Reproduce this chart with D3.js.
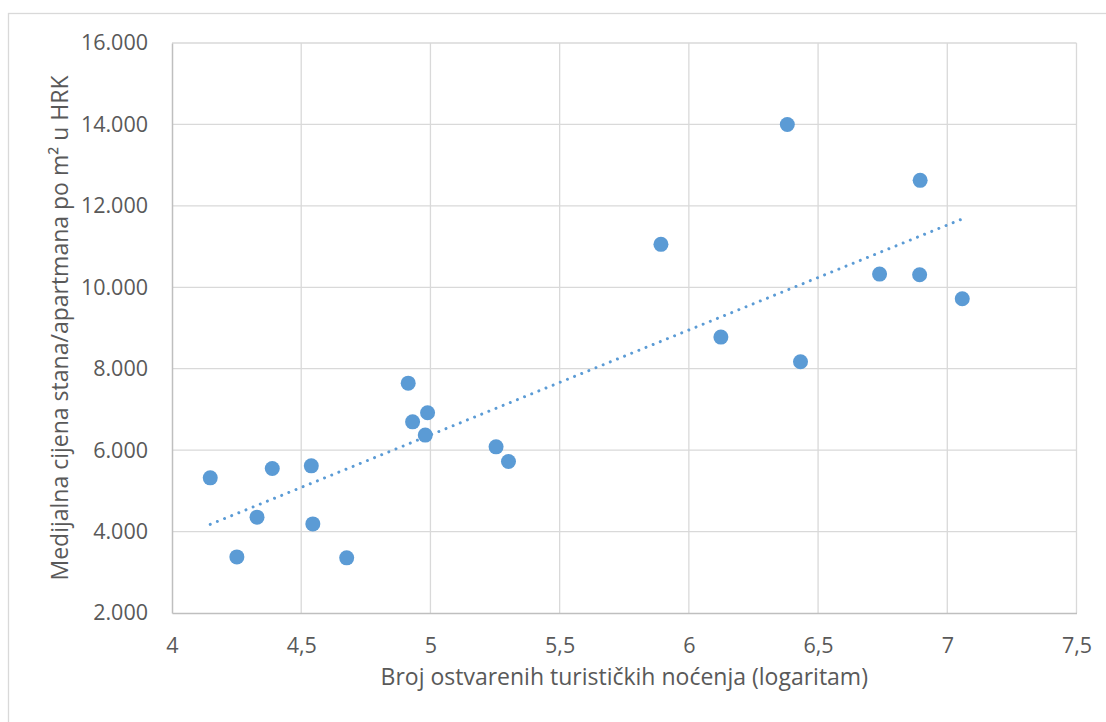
<!DOCTYPE html>
<html>
<head>
<meta charset="utf-8">
<script src="https://cdn.jsdelivr.net/npm/d3@7"></script>
<style>
  html, body { margin: 0; padding: 0; background: #fff; }
  svg text { font-family: "Open Sans", sans-serif; fill: #595959; }
</style>
</head>
<body>
<div id="chart"></div>
<script>
// Log of tourist nights vs median apartment price per m2 (HRK)
const logNights = [4.148, 4.388, 4.539, 4.329, 4.545, 4.251, 4.676, 4.914, 4.931, 4.989,
  4.980, 5.254, 5.302, 5.892, 6.124, 6.381, 6.432, 6.738, 6.893, 6.895, 7.058];
const medianPrice = [5319, 5550, 5614, 4354, 4189, 3378, 3354, 7646, 6695, 6917,
  6369, 6081, 5722, 11054, 8776, 14000, 8170, 10324, 10307, 12626, 9717];

const xTicks = [4, 4.5, 5, 5.5, 6, 6.5, 7, 7.5];
const yTicks = [2000, 4000, 6000, 8000, 10000, 12000, 14000, 16000];

const xTitle = 'Broj ostvarenih turističkih noćenja (logaritam)';
const yTitle = 'Medijalna cijena stana/apartmana po m² u HRK';

const width = 1106, height = 722;
const margin = { top: 43, right: 30, bottom: 109, left: 172 };

const svg = d3.select('#chart').append('svg')
  .attr('width', width)
  .attr('height', height);

// chart area border (cropped on right and bottom)
svg.append('rect')
  .attr('x', 8.5).attr('y', 13.5)
  .attr('width', 1200).attr('height', 800)
  .attr('fill', 'none')
  .attr('stroke', '#d9d9d9')
  .attr('stroke-width', 1.3);

const x = d3.scaleLinear().domain([4, 7.5]).range([margin.left, 1076.5]);
const y = d3.scaleLinear().domain([2000, 16000]).range([613, margin.top]);

const fmtX = d => String(d).replace('.', ',');
const fmtY = d => d3.format(',')(d).replace(/,/g, '.');

// gridlines
svg.append('g')
  .selectAll('line')
  .data(yTicks.slice(1))
  .join('line')
  .attr('x1', x(4)).attr('x2', x(7.5))
  .attr('y1', d => y(d)).attr('y2', d => y(d))
  .attr('stroke', '#d9d9d9')
  .attr('stroke-width', 1.3);

svg.append('g')
  .selectAll('line')
  .data(xTicks.slice(1))
  .join('line')
  .attr('x1', d => x(d)).attr('x2', d => x(d))
  .attr('y1', y(2000)).attr('y2', y(16000))
  .attr('stroke', '#d9d9d9')
  .attr('stroke-width', 1.3);

// axes
const xAxis = svg.append('g')
  .attr('transform', `translate(0,${y(2000)})`)
  .call(d3.axisBottom(x).tickValues(xTicks).tickFormat(fmtX).tickSize(0).tickPadding(25));
const yAxis = svg.append('g')
  .attr('transform', `translate(${x(4)},0)`)
  .call(d3.axisLeft(y).tickValues(yTicks).tickFormat(fmtY).tickSize(0).tickPadding(24));

[xAxis, yAxis].forEach(a => {
  a.select('.domain').attr('stroke', '#bfbfbf').attr('stroke-width', 1.5);
  a.selectAll('text')
    .attr('font-size', '21.5px')
    .style('fill', '#595959')
    .style('font-family', '"Open Sans", sans-serif');
});

// linear trendline (least squares)
const n = logNights.length;
const mx = d3.mean(logNights), my = d3.mean(medianPrice);
let sxy = 0, sxx = 0;
for (let i = 0; i < n; i++) {
  sxy += (logNights[i] - mx) * (medianPrice[i] - my);
  sxx += (logNights[i] - mx) ** 2;
}
const slope = sxy / sxx;
const intercept = my - slope * mx;
const [x0, x1] = d3.extent(logNights);

svg.append('line')
  .attr('x1', x(x0)).attr('y1', y(intercept + slope * x0))
  .attr('x2', x(x1)).attr('y2', y(intercept + slope * x1))
  .attr('stroke', '#5b9bd5')
  .attr('stroke-width', 3)
  .attr('stroke-linecap', 'round')
  .attr('stroke-dasharray', '0.01 7.7');

// points
svg.append('g')
  .selectAll('circle')
  .data(logNights)
  .join('circle')
  .attr('cx', d => x(d))
  .attr('cy', (d, i) => y(medianPrice[i]))
  .attr('r', 7.5)
  .attr('fill', '#5b9bd5');

// axis titles
svg.append('text')
  .attr('x', (x(4) + x(7.5)) / 2)
  .attr('y', 685)
  .attr('text-anchor', 'middle')
  .attr('font-size', '23px')
  .text(xTitle);

svg.append('text')
  .attr('transform', `translate(68,${(y(2000) + y(16000)) / 2}) rotate(-90)`)
  .attr('text-anchor', 'middle')
  .attr('font-size', '23px')
  .text(yTitle);
</script>
</body>
</html>
